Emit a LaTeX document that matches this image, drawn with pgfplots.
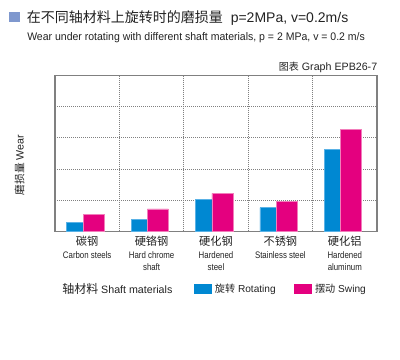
\documentclass[border=0pt]{standalone}
\usepackage{pgfplots}
\pgfplotsset{compat=1.18}
\usepackage{fontspec}
\setmainfont{Liberation Sans}
\newfontfamily\cjk{Noto Sans CJK SC}
\newfontfamily\narrow[FakeStretch=0.83]{Liberation Sans}
\definecolor{rotblue}{HTML}{0088D2}
\definecolor{rotblueedge}{HTML}{5AB2E6}
\definecolor{swmag}{HTML}{E4007F}
\definecolor{swmagedge}{HTML}{F27DBB}
\definecolor{titlesq}{HTML}{7F98CE}
\definecolor{framegray}{HTML}{808080}
\definecolor{txt}{HTML}{222222}
\begin{document}
\begin{tikzpicture}
\path[use as bounding box] (0,0) rectangle (300pt,-270pt);
\begin{axis}[
  at={(41.25pt,-173.5pt)}, anchor=south west,
  scale only axis, width=241.5pt, height=117pt,
  xmin=-0.5, xmax=4.5, ymin=0, ymax=5,
  xtick={0,1,2,3,4},
  xticklabels={
    {{\cjk\fontsize{8.4}{8.6}\selectfont 碳钢}\\[1.2pt]{\narrow Carbon steels}},
    {{\cjk\fontsize{8.4}{8.6}\selectfont 硬铬钢}\\[1.2pt]{\narrow Hard chrome}\\{\narrow shaft}},
    {{\cjk\fontsize{8.4}{8.6}\selectfont 硬化钢}\\[1.2pt]{\narrow Hardened}\\{\narrow steel}},
    {{\cjk\fontsize{8.4}{8.6}\selectfont 不锈钢}\\[1.2pt]{\narrow Stainless steel}},
    {{\cjk\fontsize{8.4}{8.6}\selectfont 硬化铝}\\[1.2pt]{\narrow Hardened}\\{\narrow aluminum}}},
  xticklabel style={align=center, font=\fontsize{7.1}{8.6}\selectfont, text=txt, inner sep=0pt, yshift=-3.5pt},
  minor xtick={0.5,1.5,2.5,3.5},
  ytick={1,2,3,4}, yticklabels={},
  major tick length=0pt, minor tick length=0pt,
  ymajorgrids, xminorgrids,
  major grid style={framegray, line width=0.6pt, dash pattern=on 0.75pt off 0.75pt},
  minor grid style={framegray, line width=0.6pt, dash pattern=on 0.75pt off 0.75pt},
  axis line style={framegray, line width=0.8pt},
  legend style={at={(0.4317,-0.372)}, anchor=west, draw=none, fill=none,
    legend columns=2, inner sep=0pt,
    font=\fontsize{7.6}{9}\selectfont, text=txt,
    /tikz/every even column/.append style={column sep=12pt}},
  legend image code/.code={\path[#1, draw=none] (0pt,-3.75pt) rectangle (13.5pt,3.75pt);},
]
\addplot[ybar, bar width=0.256, bar shift=-0.19, fill=rotblue, draw=rotblueedge, line width=0.4pt]
  coordinates {(0,0.29) (1,0.39) (2,1.03) (3,0.76) (4,2.63)};
\addlegendentry{{\cjk 旋转} Rotating}
\addplot[ybar, bar width=0.326, bar shift=0.098, fill=swmag, draw=swmagedge, line width=0.4pt]
  coordinates {(0,0.545) (1,0.72) (2,1.22) (3,0.96) (4,3.27)};
\addlegendentry{{\cjk 摆动} Swing}
\end{axis}
\begin{scope}[x=0.75pt, y=-0.75pt]
\fill[titlesq] (9,12) rectangle (20,22);
\node[anchor=base west, inner sep=0pt, text=txt, font=\fontsize{10.5}{12}\selectfont] at (26.5,22.3) {{\cjk 在不同轴材料上旋转时的磨损量}\hspace{6pt}p=2MPa, v=0.2m/s};
\node[anchor=base west, inner sep=0pt, text=txt, font=\fontsize{8.25}{10}\selectfont] at (27,40.3) {\addfontfeature{FakeStretch=0.955}Wear under rotating with different shaft materials, p = 2 MPa, v = 0.2 m/s};
\node[anchor=base east, inner sep=0pt, text=txt, font=\fontsize{8}{10}\selectfont] at (377.5,70.5) {{\cjk\fontsize{7.5}{10}\selectfont 图表} Graph EPB26-7};
\node[rotate=90, inner sep=0pt, text=txt, font=\fontsize{8}{10}\selectfont] at (19.5,165) {{\cjk\fontsize{8}{10}\selectfont 磨损量} Wear};
\node[anchor=base west, inner sep=0pt, text=txt, font=\fontsize{8}{10}\selectfont] at (62,293) {{\cjk\fontsize{9}{10}\selectfont 轴材料} Shaft materials};
\end{scope}
\end{tikzpicture}
\end{document}
